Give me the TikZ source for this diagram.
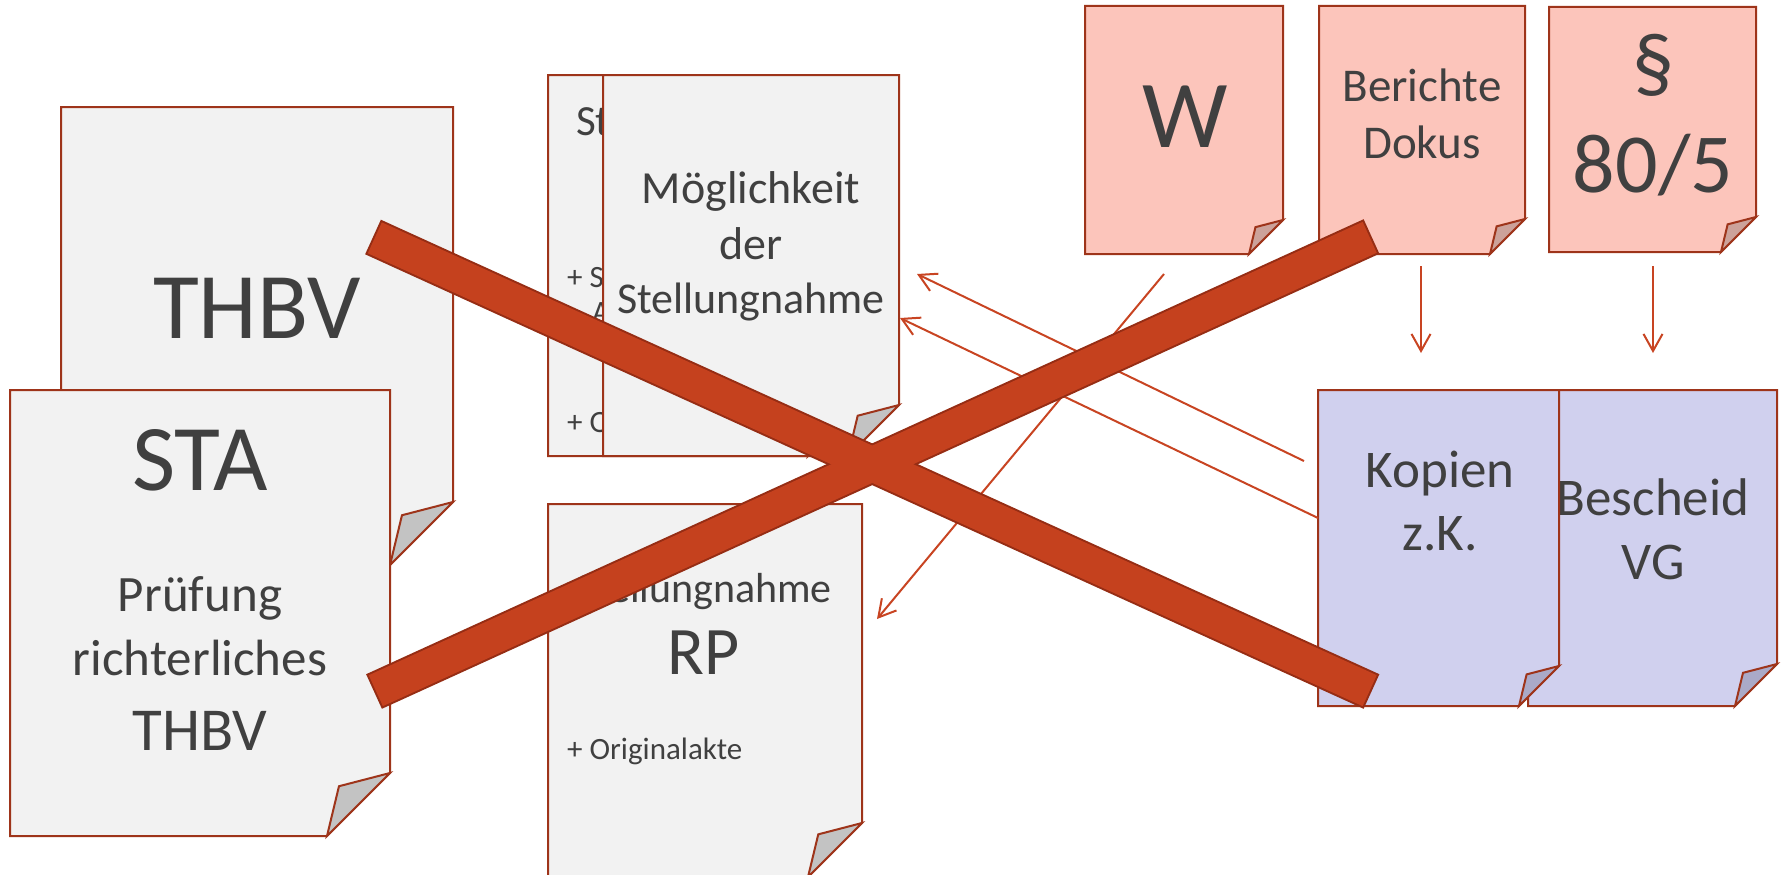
\documentclass[tikz,border=0pt]{standalone}
\usepackage{fontspec}
\setmainfont{Carlito}
\usetikzlibrary{arrows.meta}
\definecolor{doccol}{RGB}{158,52,26}
\definecolor{grayfill}{RGB}{242,242,242}
\definecolor{grayflap}{RGB}{195,195,195}
\definecolor{pinkfill}{RGB}{252,197,187}
\definecolor{pinkflap}{RGB}{204,162,154}
\definecolor{bluefill}{RGB}{208,208,238}
\definecolor{blueflap}{RGB}{170,170,200}
\definecolor{textcol}{RGB}{64,64,64}
\definecolor{barfill}{RGB}{197,65,30}
\definecolor{barline}{RGB}{150,45,20}
\definecolor{arrowcol}{RGB}{200,68,34}
\newcommand\fs[1]{\fontsize{#1}{#1}\selectfont}
\newcommand\pagedoc[7]{%
  \filldraw[docstyle, fill=#6] (#1,#2) -- (#3,#2) -- (#3,#4-#5) -- (#3-#5,#4) -- (#1,#4) -- cycle;
  \filldraw[docstyle, fill=#7] (#3,#4-#5) -- (#3-0.81*#5,#4-0.79*#5) -- (#3-#5,#4) -- cycle;}
\tikzset{
  docstyle/.style={draw=doccol, line width=2pt},
  txt/.style={text=textcol, inner sep=0pt, anchor=base},
  conn/.style={draw=arrowcol, line width=2pt, -{Straight Barb[length=17pt,width=19pt]}},
  barout/.style={draw=barline, line width=38pt},
  barin/.style={draw=barfill, line width=34pt, shorten <=2pt, shorten >=2pt},
}
\begin{document}
\begin{tikzpicture}[x=1pt,y=-1pt]
\useasboundingbox (0,0) rectangle (1785,875);
% THBV
\pagedoc{61}{107}{453}{565}{63}{grayfill}{grayflap}
\node[txt, font=\fs{94}] (thbv) at (257,338) {THBV};
% STA
\pagedoc{10}{390}{390}{836}{63}{grayfill}{grayflap}
\node[txt, font=\fs{94}] (sta) at (200,490) {STA};
\node[txt, font=\fs{51}] (sta1) at (200,611) {Prüfung};
\node[txt, font=\fs{51}] (sta2) at (200,675) {richterliches};
\node[txt, font=\fs{61}] (sta3) at (200,750) {THBV};
% back Stellungnahme (mostly hidden)
\pagedoc{548}{75}{859}{456}{51}{grayfill}{grayflap}
\node[txt, font=\fs{43}, anchor=base west] (bs1) at (576,135) {Ste};
\node[txt, font=\fs{31}, anchor=base west] (bs2) at (567,287) {+ St};
\node[txt, font=\fs{31}, anchor=base west] (bs3) at (592,322) {A};
\node[txt, font=\fs{31}, anchor=base west] (bs4) at (567,432) {+ Or};
% Moeglichkeit
\pagedoc{603}{75}{899}{456}{51}{grayfill}{grayflap}
\node[txt, font=\fs{46}] (mg1) at (751,203) {Möglichkeit};
\node[txt, font=\fs{46}] (mg2) at (751,259) {der};
\node[txt, font=\fs{44}] (mg3) at (751,313) {Stellungnahme};
% RP
\pagedoc{548}{504}{862}{877}{54}{grayfill}{grayflap}
\node[txt, font=\fs{42}] (rp1) at (704,602) {Stellungnahme};
\node[txt, font=\fs{68}] (rp2) at (704,674) {RP};
\node[txt, font=\fs{31}, anchor=base west] (rp3) at (567,759) {+ Originalakte};
% pink docs
\pagedoc{1085}{6}{1283}{254}{34}{pinkfill}{pinkflap}
\node[txt, font=\fs{96}] (w) at (1185,147) {W};
\pagedoc{1319}{6}{1525}{254}{35}{pinkfill}{pinkflap}
\node[txt, font=\fs{47}] (ber1) at (1422,101) {Berichte};
\node[txt, font=\fs{47}] (ber2) at (1422,158) {Dokus};
\pagedoc{1549}{7}{1756}{252}{35}{pinkfill}{pinkflap}
\node[txt, font=\fs{84}] (par1) at (1653,91) {§};
\node[txt, font=\fs{84}] (par2) at (1653,192) {80/5};
% blue docs
\pagedoc{1528}{390}{1777}{706}{42}{bluefill}{blueflap}
\node[txt, font=\fs{53}] (bes1) at (1653,515) {Bescheid};
\node[txt, font=\fs{53}] (bes2) at (1653,579) {VG};
\pagedoc{1318}{390}{1559}{706}{40}{bluefill}{blueflap}
\node[txt, font=\fs{53}] (kop1) at (1440,487) {Kopien};
\node[txt, font=\fs{53}] (kop2) at (1440,550) {z.K.};
% arrows
\coordinate (a1s) at (1304,461); \coordinate (a1e) at (917,274);
\coordinate (a2s) at (1318,518); \coordinate (a2e) at (900,318);
\coordinate (a3s) at (1164,274); \coordinate (a3e) at (877,619);
\coordinate (a4s) at (1421,266); \coordinate (a4e) at (1421,353);
\coordinate (a5s) at (1653,266); \coordinate (a5e) at (1653,353);
\draw[conn] (a1s) -- (a1e);
\draw[conn] (a2s) -- (a2e);
\draw[conn] (a3s) -- (a3e);
\draw[conn] (a4s) -- (a4e);
\draw[conn] (a5s) -- (a5e);
% big X
\coordinate (x1a) at (373,237); \coordinate (x1b) at (1371.5,691.5);
\coordinate (x2a) at (374,691.5); \coordinate (x2b) at (1371.5,236.5);
\draw[barout] (x1a) -- (x1b);
\draw[barout] (x2a) -- (x2b);
\draw[barin] (x1a) -- (x1b);
\draw[barin] (x2a) -- (x2b);
\end{tikzpicture}
\end{document}
